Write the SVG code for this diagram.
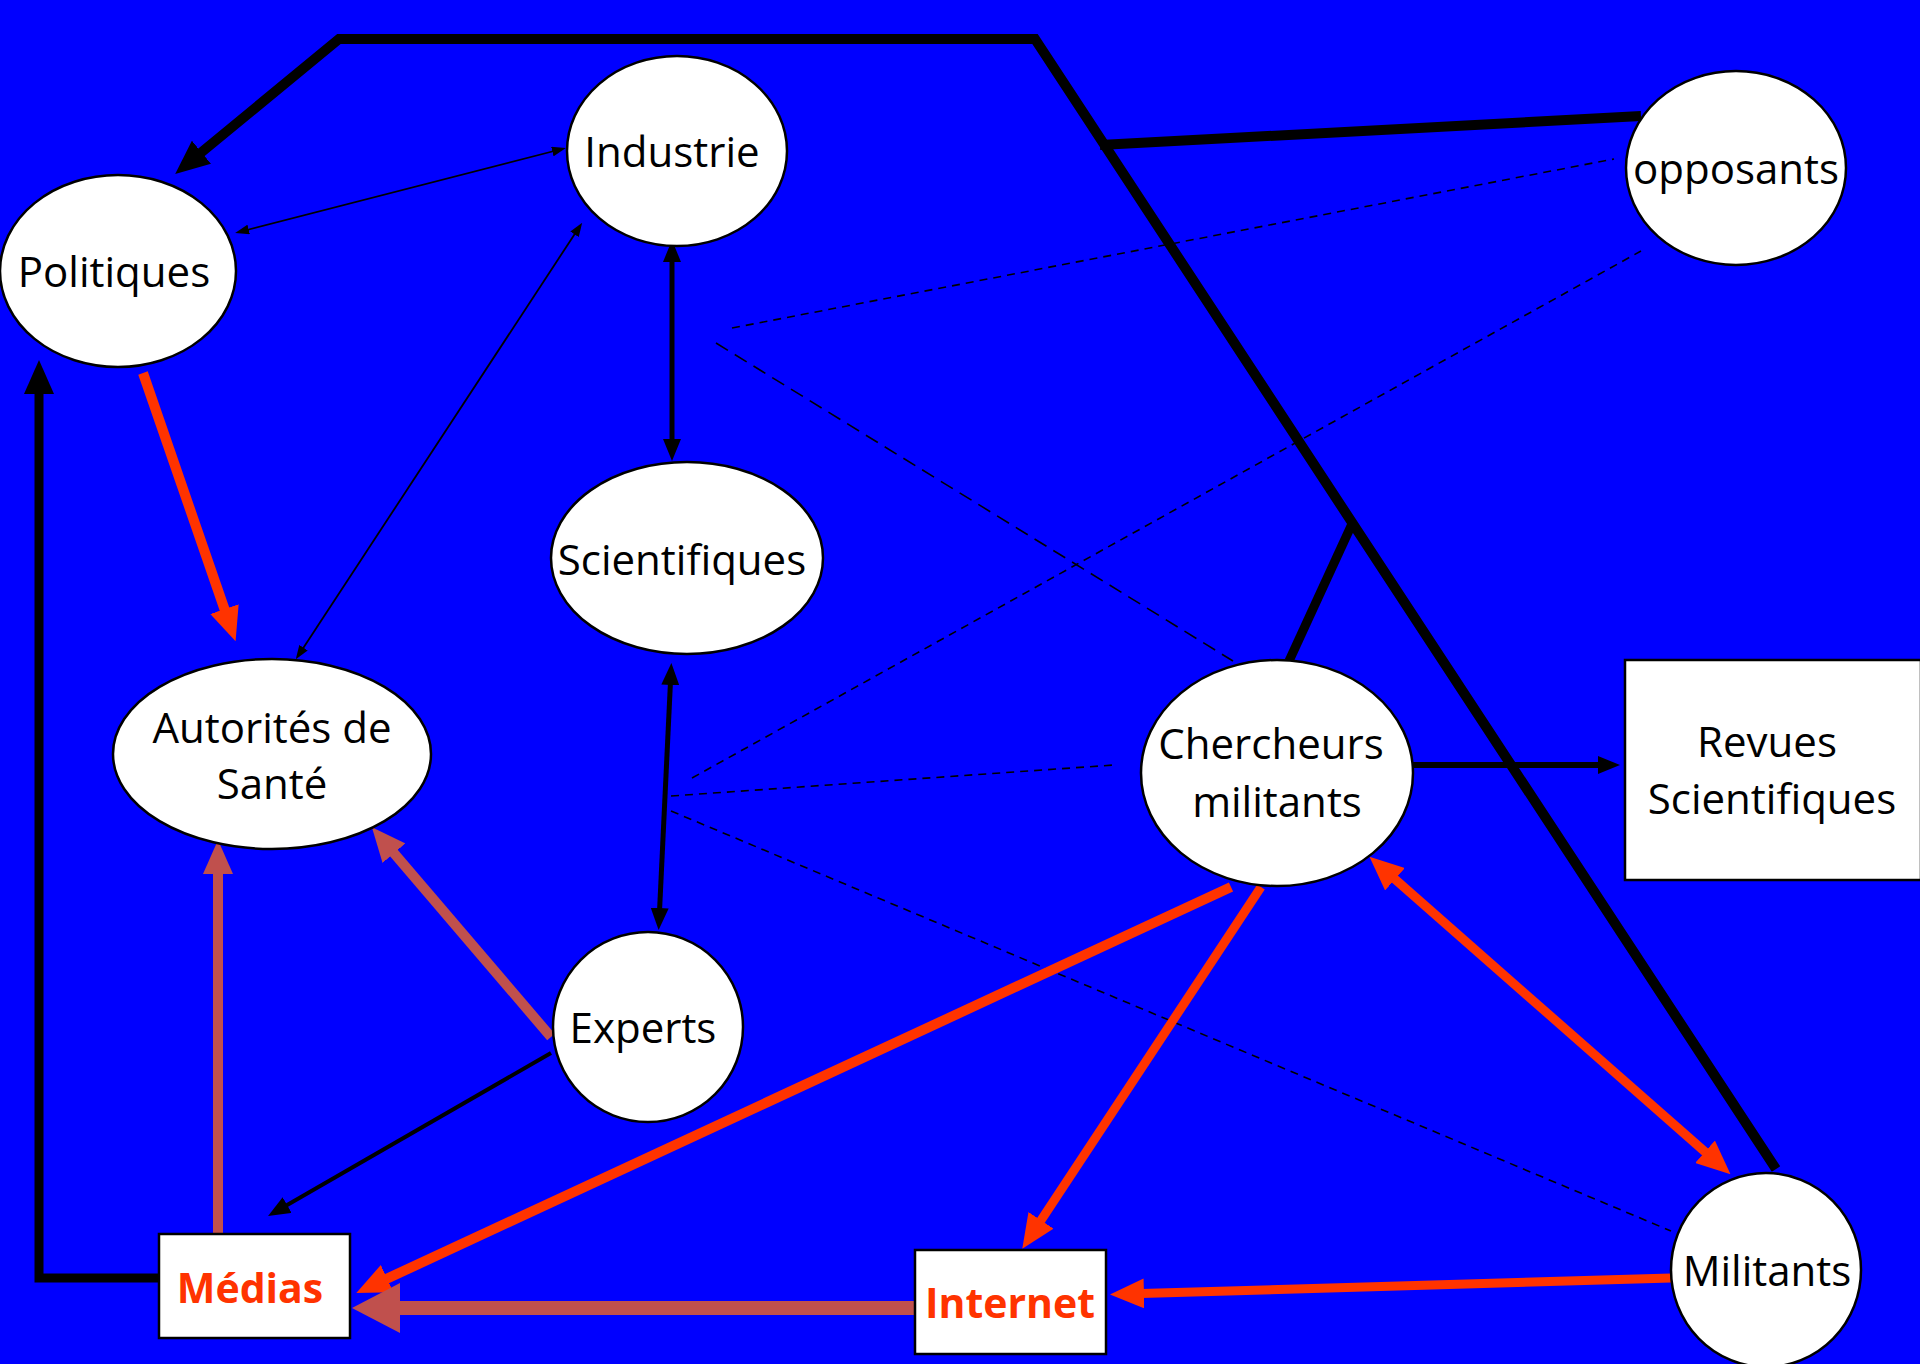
<svg xmlns="http://www.w3.org/2000/svg" width="1920" height="1364" viewBox="0 0 1920 1364">
<defs>
<style>
.node ellipse{fill:#fff;stroke:#000;stroke-width:2.5}
.node rect{fill:#fff;stroke:#000;stroke-width:2.5}
.lbl{font-family:"Open Sans","Noto Sans",sans-serif;font-size:42px;fill:#000;text-anchor:middle}
.rlbl{font-family:"Open Sans","Noto Sans",sans-serif;font-size:41px;font-weight:bold;fill:#FF3300;text-anchor:middle}
.blk{stroke:#000;fill:none}
.red{stroke:#FF3300;fill:none}
.brn{stroke:#C0504D;fill:none}
.dash{stroke:#000;fill:none;stroke-width:1.6}
</style>
<marker id="aBlk" markerUnits="userSpaceOnUse" markerWidth="34" markerHeight="30" refX="20" refY="15" orient="auto-start-reverse"><path d="M0,0 L34,15 L0,30 z" fill="#000"/></marker>
<marker id="aMed" markerUnits="userSpaceOnUse" markerWidth="22" markerHeight="18" refX="14" refY="9" orient="auto-start-reverse"><path d="M0,0 L22,9 L0,18 z" fill="#000"/></marker>
<marker id="aThin" markerUnits="userSpaceOnUse" markerWidth="14" markerHeight="10" refX="10" refY="5" orient="auto-start-reverse"><path d="M0,0 L14,5 L0,10 z" fill="#000"/></marker>
<marker id="aRed" markerUnits="userSpaceOnUse" markerWidth="34" markerHeight="30" refX="20" refY="15" orient="auto-start-reverse"><path d="M0,0 L34,15 L0,30 z" fill="#FF3300"/></marker>
<marker id="aBrn" markerUnits="userSpaceOnUse" markerWidth="34" markerHeight="30" refX="20" refY="15" orient="auto-start-reverse"><path d="M0,0 L34,15 L0,30 z" fill="#C0504D"/></marker>
<marker id="aBrnBig" markerUnits="userSpaceOnUse" markerWidth="48" markerHeight="50" refX="28" refY="25" orient="auto-start-reverse"><path d="M0,0 L48,25 L0,50 z" fill="#C0504D"/></marker>
</defs>
<rect x="0" y="0" width="1920" height="1364" fill="#0000FF"/>

<g id="connectors">
<line class="dash" x1="732" y1="328" x2="1614" y2="159" stroke-dasharray="8,6"/>
<line class="dash" x1="716" y1="343" x2="1233" y2="661" stroke-dasharray="14,8"/>
<line class="dash" x1="692" y1="778" x2="1641" y2="251" stroke-dasharray="8,6"/>
<line class="dash" x1="671" y1="796" x2="1114" y2="765" stroke-dasharray="8,6"/>
<line class="dash" x1="671" y1="811" x2="1671" y2="1231" stroke-dasharray="8,6"/>
<polyline class="blk" stroke-width="10" points="1776,1169 1035,39 339,39 186,165" marker-end="url(#aBlk)"/>
<line class="blk" stroke-width="10" x1="1100" y1="145" x2="1641" y2="116"/>
<line class="blk" stroke-width="9" x1="1289" y1="661" x2="1352" y2="524"/>
<polyline class="blk" stroke-width="9" points="159,1278 39,1278 39,374" marker-end="url(#aBlk)"/>
<line class="blk" stroke-width="1.8" x1="239" y1="232" x2="562" y2="149" marker-start="url(#aThin)" marker-end="url(#aThin)"/>
<line class="blk" stroke-width="1.8" x1="580" y1="226" x2="298" y2="656" marker-start="url(#aThin)" marker-end="url(#aThin)"/>
<line class="blk" stroke-width="5" x1="672" y1="248" x2="672" y2="453" marker-start="url(#aMed)" marker-end="url(#aMed)"/>
<line class="blk" stroke-width="5" x1="671" y1="671" x2="659" y2="922" marker-start="url(#aMed)" marker-end="url(#aMed)"/>
<line class="blk" stroke-width="4" x1="551" y1="1053" x2="275" y2="1212" marker-end="url(#aMed)"/>
<line class="blk" stroke-width="6" x1="1413" y1="765" x2="1612" y2="765" marker-end="url(#aMed)"/>
<line class="red" stroke-width="10" x1="143" y1="373" x2="231" y2="628" marker-end="url(#aRed)"/>
<line class="red" stroke-width="10" x1="1231" y1="887" x2="369" y2="1287" marker-end="url(#aRed)"/>
<line class="red" stroke-width="9" x1="1261" y1="887" x2="1030" y2="1237" marker-end="url(#aRed)"/>
<line class="red" stroke-width="9" x1="1380" y1="866" x2="1720" y2="1165" marker-start="url(#aRed)" marker-end="url(#aRed)"/>
<line class="red" stroke-width="9" x1="1671" y1="1278" x2="1124" y2="1294" marker-end="url(#aRed)"/>
<line class="brn" stroke-width="10" x1="551" y1="1037" x2="381" y2="838" marker-end="url(#aBrn)"/>
<line class="brn" stroke-width="10" x1="218" y1="1234" x2="218" y2="854" marker-end="url(#aBrn)"/>
<line class="brn" stroke-width="14" x1="915" y1="1308" x2="372" y2="1308" marker-end="url(#aBrnBig)"/>
</g>

<g id="industrie" class="node"><ellipse cx="677" cy="151" rx="110" ry="95"/><text class="lbl" x="672" y="167">Industrie</text></g>
<g id="politiques" class="node"><ellipse cx="118" cy="271" rx="118" ry="96"/><text class="lbl" x="114" y="287">Politiques</text></g>
<g id="scientifiques" class="node"><ellipse cx="687" cy="558" rx="136" ry="96"/><text class="lbl" x="682" y="575">Scientifiques</text></g>
<g id="autorites" class="node"><ellipse cx="272" cy="754" rx="159" ry="95"/><text class="lbl" x="272" y="743">Autorités de</text><text class="lbl" x="272" y="799">Santé</text></g>
<g id="experts" class="node"><ellipse cx="648" cy="1027" rx="95" ry="95"/><text class="lbl" x="643" y="1043">Experts</text></g>
<g id="opposants" class="node"><ellipse cx="1736" cy="168" rx="110" ry="97"/><text class="lbl" x="1736" y="184">opposants</text></g>
<g id="chercheurs" class="node"><ellipse cx="1277" cy="773" rx="136" ry="113"/><text class="lbl" x="1271" y="759">Chercheurs</text><text class="lbl" x="1277" y="817">militants</text></g>
<g id="revues" class="node"><rect x="1625" y="660" width="296" height="220"/><text class="lbl" x="1767" y="757">Revues</text><text class="lbl" x="1772" y="814">Scientifiques</text></g>
<g id="militants" class="node"><ellipse cx="1766" cy="1270" rx="95" ry="97"/><text class="lbl" x="1767" y="1286">Militants</text></g>
<g id="medias" class="node"><rect x="159" y="1234" width="191" height="104"/><text class="rlbl" x="250" y="1303">Médias</text></g>
<g id="internet" class="node"><rect x="915" y="1250" width="191" height="104"/><text class="rlbl" x="1010" y="1318">Internet</text></g>
</svg>
